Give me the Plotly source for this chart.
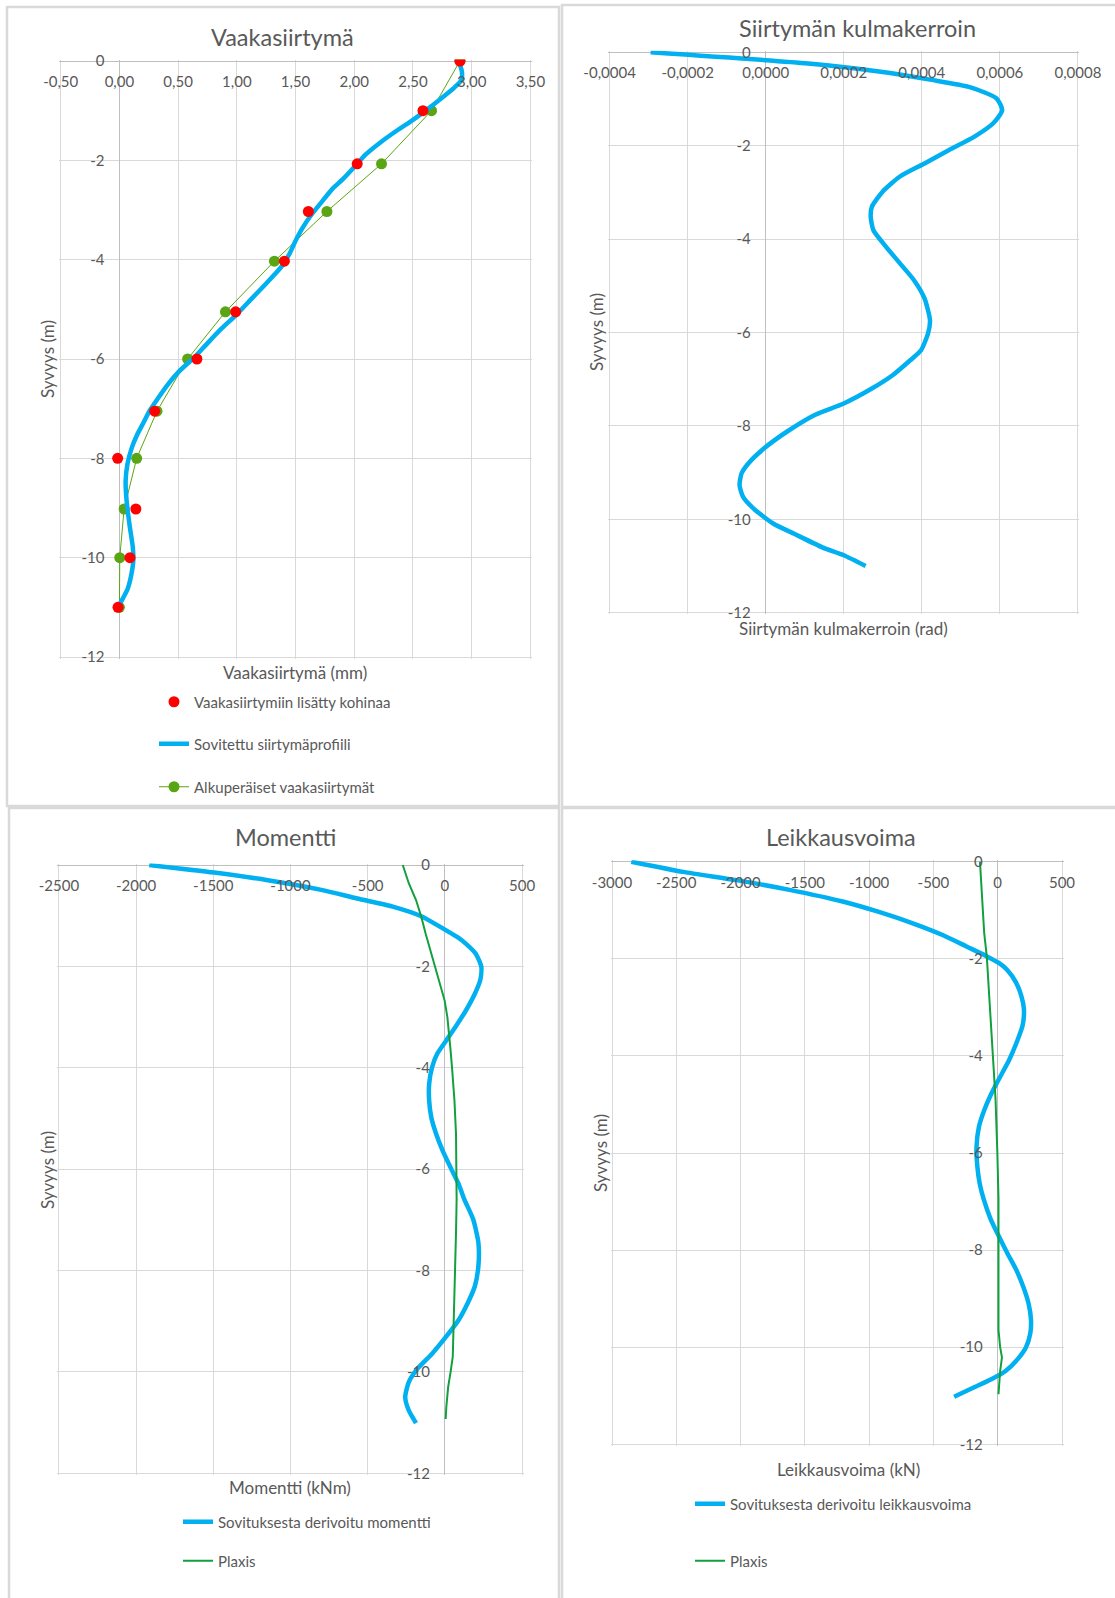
import plotly.graph_objects as go

W, H = 1115, 1598

# ---------------- Vaakasiirtymä ----------------
meas_depth = [0, -1.0, -2.07, -3.03, -4.03, -5.05, -6.0, -7.05, -8.0, -9.02, -10.0, -11.0]
noisy_disp = [2.90, 2.585, 2.025, 1.609, 1.405, 0.99, 0.66, 0.30, -0.015, 0.14, 0.09, -0.012]
orig_disp = [2.90, 2.658, 2.232, 1.767, 1.32, 0.903, 0.581, 0.32, 0.147, 0.04, 0.003, 0.0]

fit_depth = [0, -0.22, -0.39, -0.54, -0.72, -0.89, -1.03, -1.21, -1.45, -1.66, -1.9, -2.06,
             -2.37, -2.57, -2.83, -3.1, -3.37, -3.64, -3.87, -4.11, -4.28, -4.51, -4.81,
             -5.11, -5.38, -5.68, -5.95, -6.25, -6.52, -6.82, -7.05, -7.26, -7.53, -7.79,
             -8.12, -8.45, -8.85, -9.37, -9.77, -10.03, -10.36, -10.63, -10.83, -10.96]
fit_disp = [2.89, 2.917, 2.911, 2.85, 2.758, 2.667, 2.591, 2.485, 2.333, 2.211, 2.089, 2.029,
            1.907, 1.816, 1.725, 1.633, 1.557, 1.496, 1.451, 1.39, 1.329, 1.238, 1.116,
            0.995, 0.873, 0.751, 0.645, 0.508, 0.41, 0.32, 0.255, 0.21, 0.15, 0.105,
            0.068, 0.053, 0.061, 0.088, 0.113, 0.119, 0.1, 0.07, 0.027, -0.003]

# ---------------- Siirtymän kulmakerroin ----------------
slope_depth = [0, -0.24, -0.41, -0.59, -0.75, -0.99, -1.24, -1.52, -1.81, -2.09, -2.38, -2.66,
               -2.99, -3.31, -3.52, -3.81, -4.16, -4.52, -4.88, -5.27, -5.74, -6.02, -6.38,
               -6.59, -6.91, -7.2, -7.52, -7.76, -8.12, -8.48, -8.8, -9.02, -9.27, -9.52,
               -9.77, -10.09, -10.31, -10.6, -10.77, -11.0]
slope_rad = [-0.000295, 0.000109, 0.00029, 0.000425, 0.000525, 0.000592, 0.000606, 0.000583,
             0.000534, 0.00047, 0.000407, 0.000344, 0.000299, 0.000272, 0.000269, 0.000276,
             0.000308, 0.000344, 0.00038, 0.000407, 0.000421, 0.000416, 0.000398, 0.000371,
             0.000326, 0.000272, 0.0002, 0.000127, 0.000055, -0.000004, -0.000044, -0.000062,
             -0.000067, -0.000058, -0.000031, 0.000019, 0.000073, 0.000145, 0.0002, 0.000256]

# ---------------- Momentti ----------------
moment_depth = [0, -0.15, -0.30, -0.49, -0.66, -0.82, -1.01, -1.25, -1.42, -1.55, -1.75, -2.01,
                -2.27, -2.54, -2.87, -3.2, -3.46, -3.72, -3.99, -4.32, -4.65, -4.98, -5.31,
                -5.64, -5.97, -6.3, -6.59, -6.99, -7.45, -7.91, -8.31, -8.64, -8.97, -9.30,
                -9.64, -9.93, -10.2, -10.5, -10.76, -11.01]
moment_fit = [-1915, -1494, -1147, -800, -569, -338, -153, -14, 79, 135, 200, 236, 229, 194,
              136, 67, 9, -49, -83, -102, -102, -88, -56, -14, 37, 90, 125, 183, 217, 217,
              194, 148, 90, 9, -83, -176, -234, -257, -234, -187]
plaxis_m_depth = [0, -0.36, -0.69, -1.02, -1.35, -1.68, -2.01, -2.34, -2.67, -3.0, -3.33, -3.66,
                  -3.99, -4.32, -4.65, -4.98, -5.31, -5.97, -6.59, -7.25, -7.91, -8.58, -9.24,
                  -9.70, -10.0, -10.3, -10.7, -10.93]
plaxis_m = [-273, -234, -187, -153, -125, -95, -65, -32, -2, 16, 28, 37, 46, 55, 62, 67, 72,
            74, 76, 72, 67, 62, 55, 51, 37, 21, 9, 5]

# ---------------- Leikkausvoima ----------------
shear_depth = [0, -0.21, -0.38, -0.58, -0.82, -1.03, -1.28, -1.52, -1.75, -1.94, -2.08,
               -2.23, -2.49, -2.77, -3.04, -3.38, -3.75, -4.09, -4.43, -4.78, -5.12, -5.46,
               -5.88, -6.29, -6.63, -6.96, -7.36, -7.71, -8.06, -8.40, -8.75, -9.10, -9.44,
               -9.72, -10.0, -10.24, -10.49, -10.66, -10.83, -11.02]
shear_fit = [-2850, -2445, -2032, -1619, -1206, -930, -650, -420, -240, -91, 6, 74, 143,
             184, 204, 193, 143, 88, 19, -50, -105, -146, -165, -158, -140, -108, -55, 8, 74,
             143, 198, 240, 259, 253, 220, 157, 61, -50, -187, -339]
plaxis_v_depth = [0, -1.47, -1.95, -2.84, -4.0, -4.89, -5.98, -6.94, -8.33, -9.65, -10.0,
                  -10.21, -10.49, -10.97]
plaxis_v = [-138, -105, -85, -63, -36, -17, -3, 6, 6, 6, 19, 33, 19, 6]

# ---------------- Tick values and labels ----------------
depth_ticks = [0, -2, -4, -6, -8, -10, -12]
depth_labels = ["0", "-2", "-4", "-6", "-8", "-10", "-12"]
disp_ticks = [-0.5, 0, 0.5, 1.0, 1.5, 2.0, 2.5, 3.0, 3.5]
disp_labels = ["-0,50", "0,00", "0,50", "1,00", "1,50", "2,00", "2,50", "3,00", "3,50"]
slope_ticks = [-0.0004, -0.0002, 0, 0.0002, 0.0004, 0.0006, 0.0008]
slope_labels = ["-0,0004", "-0,0002", "0,0000", "0,0002", "0,0004", "0,0006", "0,0008"]
moment_ticks = [-2500, -2000, -1500, -1000, -500, 0, 500]
moment_labels = ["-2500", "-2000", "-1500", "-1000", "-500", "0", "500"]
shear_ticks = [-3000, -2500, -2000, -1500, -1000, -500, 0, 500]
shear_labels = ["-3000", "-2500", "-2000", "-1500", "-1000", "-500", "0", "500"]

# ---------------- Styling ----------------
FONT = "Lato"
TXT = "#595959"
GRID = "#d9d9d9"
AXLINE = "#bfbfbf"
CYAN = "#00B0F0"
RED = "#FF0000"
GREEN = "#5AA514"
PLAXIS = "#12A03E"
TICK_SIZE = 15
LEGEND_SIZE = 15
AXTITLE_SIZE = 17
TITLE_SIZE = 23.5


def px(x):
    return x / W


def py(y):
    return 1 - y / H


fig = go.Figure()

# plot-area boxes in pixels: left, top, right, bottom
panels = [
    dict(box=(60.7, 61, 530.4, 657), xr=(-0.5, 3.5), tv=disp_ticks, tt=disp_labels),
    dict(box=(609.6, 52.3, 1077.9, 612.7), xr=(-0.0004, 0.0008), tv=slope_ticks, tt=slope_labels),
    dict(box=(58.9, 865, 522.1, 1473.3), xr=(-2500, 500), tv=moment_ticks, tt=moment_labels),
    dict(box=(612, 861.7, 1062, 1444.3), xr=(-3000, 500), tv=shear_ticks, tt=shear_labels),
]

PAD = 1.5  # keeps the outermost gridlines inside the plotting area
for i, p in enumerate(panels, start=1):
    l, t, r, b = p["box"]
    x0, x1 = p["xr"]
    xpad = PAD * (x1 - x0) / (r - l)
    ypad = PAD * 12 / (b - t)
    sfx = "" if i == 1 else str(i)
    zero_x = px(l + (0 - x0) / (x1 - x0) * (r - l))
    fig.layout["xaxis" + sfx] = dict(
        domain=[px(l - PAD), px(r + PAD)],
        range=[x0 - xpad, x1 + xpad],
        anchor="free", position=py(t + 10), side="bottom",
        tickvals=p["tv"], ticktext=p["tt"], ticks="",
        showgrid=True, gridcolor=GRID, gridwidth=1,
        zeroline=True, zerolinecolor=AXLINE, zerolinewidth=1,
        showline=False, automargin=False,
        tickfont=dict(family=FONT, size=TICK_SIZE, color=TXT),
        fixedrange=True,
    )
    fig.layout["yaxis" + sfx] = dict(
        domain=[py(b + PAD), py(t - PAD)],
        range=[-12 - ypad, 0 + ypad],
        anchor="free", position=zero_x, side="left",
        tickvals=depth_ticks, ticktext=depth_labels, ticks="",
        ticklabelstandoff=15,
        showgrid=True, gridcolor=GRID, gridwidth=1,
        zeroline=True, zerolinecolor=AXLINE, zerolinewidth=1,
        showline=False, automargin=False,
        tickfont=dict(family=FONT, size=TICK_SIZE, color=TXT),
        fixedrange=True,
    )

# ---- Vaakasiirtymä traces ----
fig.add_trace(go.Scatter(
    x=orig_disp, y=meas_depth, mode="lines+markers", name="Alkuperäiset vaakasiirtymät",
    line=dict(color=GREEN, width=1), marker=dict(color=GREEN, size=11),
    xaxis="x", yaxis="y", legend="legend3"))
fig.add_trace(go.Scatter(
    x=fit_disp, y=fit_depth, mode="lines", name="Sovitettu siirtymäprofiili",
    line=dict(color=CYAN, width=4.5, shape="spline", smoothing=0.6),
    xaxis="x", yaxis="y", legend="legend2"))
fig.add_trace(go.Scatter(
    x=noisy_disp, y=meas_depth, mode="markers", name="Vaakasiirtymiin lisätty kohinaa",
    marker=dict(color=RED, size=11),
    xaxis="x", yaxis="y", legend="legend"))

# ---- Siirtymän kulmakerroin ----
fig.add_trace(go.Scatter(
    x=slope_rad, y=slope_depth, mode="lines", name="Siirtymän kulmakerroin",
    line=dict(color=CYAN, width=4.5, shape="spline", smoothing=0.6),
    xaxis="x2", yaxis="y2", showlegend=False))

# ---- Momentti ----
fig.add_trace(go.Scatter(
    x=moment_fit, y=moment_depth, mode="lines", name="Sovituksesta derivoitu momentti",
    line=dict(color=CYAN, width=4.5, shape="spline", smoothing=0.6),
    xaxis="x3", yaxis="y3", legend="legend4"))
fig.add_trace(go.Scatter(
    x=plaxis_m, y=plaxis_m_depth, mode="lines", name="Plaxis",
    line=dict(color=PLAXIS, width=2),
    xaxis="x3", yaxis="y3", legend="legend5"))

# ---- Leikkausvoima ----
fig.add_trace(go.Scatter(
    x=shear_fit, y=shear_depth, mode="lines", name="Sovituksesta derivoitu leikkausvoima",
    line=dict(color=CYAN, width=4.5, shape="spline", smoothing=0.6),
    xaxis="x4", yaxis="y4", legend="legend6"))
fig.add_trace(go.Scatter(
    x=plaxis_v, y=plaxis_v_depth, mode="lines", name="Plaxis",
    line=dict(color=PLAXIS, width=2),
    xaxis="x4", yaxis="y4", legend="legend7"))

# ---- Legends, one entry each ----
legend_pos = {
    "legend": (196, 702), "legend2": (196, 744), "legend3": (196, 787),
    "legend4": (220, 1522), "legend5": (220, 1561),
    "legend6": (732, 1504), "legend7": (732, 1561),
}
for key, (tx, ty) in legend_pos.items():
    fig.layout[key] = dict(
        x=px(tx - 42), y=py(ty), xanchor="left", yanchor="middle",
        bgcolor="rgba(0,0,0,0)", borderwidth=0,
        font=dict(family=FONT, size=LEGEND_SIZE, color=TXT),
    )

# ---- Titles ----
annotations = []


def label(text, x, y, size, angle=0):
    annotations.append(dict(
        text=text, x=px(x), y=py(y), xref="paper", yref="paper",
        xanchor="center", yanchor="middle", showarrow=False, textangle=angle,
        font=dict(family=FONT, size=size, color=TXT)))


label("Vaakasiirtymä", 282, 37, TITLE_SIZE)
label("Siirtymän kulmakerroin", 857, 28, TITLE_SIZE)
label("Momentti", 285, 837, TITLE_SIZE)
label("Leikkausvoima", 841, 837, TITLE_SIZE)

label("Vaakasiirtymä (mm)", 295, 672, AXTITLE_SIZE)
label("Siirtymän kulmakerroin (rad)", 843, 628, AXTITLE_SIZE)
label("Momentti (kNm)", 290, 1487, AXTITLE_SIZE)
label("Leikkausvoima (kN)", 848, 1469, AXTITLE_SIZE)

label("Syvyys (m)", 48, 359, AXTITLE_SIZE, -90)
label("Syvyys (m)", 596, 332, AXTITLE_SIZE, -90)
label("Syvyys (m)", 47, 1170, AXTITLE_SIZE, -90)
label("Syvyys (m)", 600, 1153, AXTITLE_SIZE, -90)

# ---- Chart-area frames ----
shapes = []
for (x0, y0, x1, y1) in [(7, 7, 559, 806), (562, 5, 1120, 807),
                         (9, 808, 559, 1605), (562, 808, 1120, 1605)]:
    shapes.append(dict(type="rect", xref="paper", yref="paper",
                       x0=px(x0), x1=px(x1), y0=py(y0), y1=py(y1),
                       line=dict(color=GRID, width=2.5)))

fig.update_layout(
    template="none",
    width=W, height=H,
    margin=dict(l=0, r=0, t=0, b=0, pad=0, autoexpand=False),
    paper_bgcolor="white", plot_bgcolor="white",
    annotations=annotations, shapes=shapes,
    font=dict(family=FONT, color=TXT),
    hovermode=False,
)

fig.write_html("out.html")
